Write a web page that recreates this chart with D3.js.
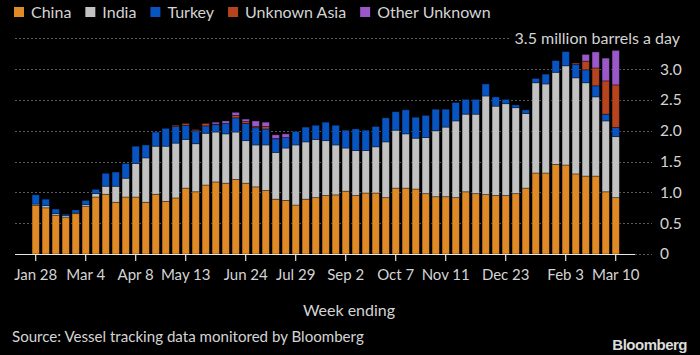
<!DOCTYPE html>
<html><head><meta charset="utf-8">
<script src="https://cdn.jsdelivr.net/npm/d3@7/dist/d3.min.js"></script>
<style>
body{margin:0;background:#000;}
svg{display:block;font-family:Lato,"Open Sans",sans-serif;}
</style>
</head><body>
<svg id="c" width="700" height="355"></svg>
<script>
const weeks = ["2022-01-28","2022-02-04","2022-02-11","2022-02-18","2022-02-25","2022-03-04","2022-03-11","2022-03-18","2022-03-25",
"2022-04-01","2022-04-08","2022-04-15","2022-04-22","2022-04-29","2022-05-06","2022-05-13","2022-05-20","2022-05-27",
"2022-06-03","2022-06-10","2022-06-17","2022-06-24","2022-07-01","2022-07-08","2022-07-15","2022-07-22","2022-07-29",
"2022-08-05","2022-08-12","2022-08-19","2022-08-26","2022-09-02","2022-09-09","2022-09-16","2022-09-23","2022-09-30",
"2022-10-07","2022-10-14","2022-10-21","2022-10-28","2022-11-04","2022-11-11","2022-11-18","2022-11-25",
"2022-12-02","2022-12-09","2022-12-16","2022-12-23","2022-12-30","2023-01-06","2023-01-13","2023-01-20","2023-01-27",
"2023-02-03","2023-02-10","2023-02-17","2023-02-24","2023-03-03","2023-03-10"];

const china = [0.79,0.75,0.63,0.59,0.655,0.77,0.925,0.97,0.84,0.925,0.925,0.84,0.97,0.855,0.91,1.07,1.01,1.12,1.17,1.15,
1.21,1.15,1.09,1.03,0.89,0.87,0.795,0.89,0.915,0.95,0.96,1.02,0.95,0.99,0.99,0.915,1.07,1.07,1.055,0.98,
0.93,0.93,0.915,1.01,0.98,0.965,0.95,0.95,0.98,1.07,1.315,1.315,1.455,1.445,1.30,1.265,1.265,1.01,0.915];
const india = [0.02,0.035,0.025,0.03,0.01,0.03,0.055,0.13,0.26,0.305,0.545,0.72,0.78,0.895,0.89,0.79,0.78,0.84,0.81,0.80,
0.77,0.69,0.68,0.74,0.76,0.85,0.975,0.93,0.945,0.89,0.81,0.70,0.73,0.69,0.75,0.905,0.94,0.88,0.825,0.91,
1.07,1.13,1.245,1.26,1.29,1.60,1.45,1.49,1.395,1.21,1.465,1.445,1.495,1.61,1.56,1.515,1.285,1.15,0.99];
const turkey = [0.15,0.105,0.075,0.025,0.05,0.07,0.07,0.21,0.23,0.24,0.28,0.21,0.23,0.29,0.27,0.23,0.21,0.12,0.12,0.17,
0.23,0.28,0.28,0.26,0.22,0.17,0.22,0.24,0.23,0.30,0.32,0.29,0.35,0.33,0.33,0.39,0.30,0.39,0.34,0.36,
0.35,0.29,0.30,0.24,0.24,0.195,0.15,0.07,0.045,0.06,0.07,0.16,0.19,0.23,0.22,0.21,0.18,0.11,0.15];
const unknownAsia = [0,0,0,0,0,0,0,0,0,0,0,0,0,0,0.02,0.03,0.02,0.04,0.01,0,
0.04,0.03,0.02,0.04,0.005,0,0,0,0,0,0,0,0,0,0,0,0,0,0,0,
0,0,0,0,0,0,0,0,0,0,0,0,0,0,0.02,0.14,0.29,0.54,0.69];
const otherUnknown = [0,0,0,0,0,0,0,0,0,0,0,0,0,0,0,0,0,0,0.03,0.04,
0.05,0.04,0.09,0.07,0.06,0.06,0,0,0,0,0,0,0,0,0,0,0,0,0,0,
0,0,0,0,0,0,0,0,0,0,0,0,0,0,0,0.11,0.26,0.37,0.56];

const seriesNames = ["China","India","Turkey","Unknown Asia","Other Unknown"];
const seriesColors = ["#df8a26","#c2c2c2","#0854c0","#b5441f","#9a58c8"];
const yTicks = [0,0.5,1.0,1.5,2.0,2.5,3.0,3.5];
const tickWeeks = ["2022-01-28","2022-03-04","2022-04-08","2022-05-13","2022-06-24","2022-07-29","2022-09-02",
"2022-10-07","2022-11-11","2022-12-23","2023-02-03","2023-03-10"];
const unitLabel = "3.5 million barrels a day";

const parse = d3.timeParse("%Y-%m-%d");
const fmt = d3.timeFormat("%b %-d");
const keys = ["china","india","turkey","unknownAsia","otherUnknown"];
const rows = weeks.map((w,i)=>({week:w, china:china[i], india:india[i], turkey:turkey[i], unknownAsia:unknownAsia[i], otherUnknown:otherUnknown[i]}));
const stacked = d3.stack().keys(keys)(rows);

const svg = d3.select("#c");
const textCol = "#d4d4d4";

const x = d3.scaleBand().domain(weeks).range([30.7, 620.7]).paddingInner(0.27).paddingOuter(0.135);
const y = d3.scaleLinear().domain([0,3.5]).range([254, 38.4]);

// gridlines
const grid = svg.append("g");
yTicks.forEach(t=>{
  grid.append("line").attr("x1",15).attr("x2", t===3.5?510:652)
    .attr("y1",Math.round(y(t))+0.5).attr("y2",Math.round(y(t))+0.5)
    .attr("stroke","#5a5a5a").attr("stroke-width",1).attr("stroke-dasharray","2,2");
});

// bars
const g = svg.append("g");
stacked.forEach((s,k)=>{
  g.append("g").attr("fill",seriesColors[k]).selectAll("rect").data(s.filter(d=>d[1]-d[0]>0)).join("rect")
    .attr("x",d=>x(d.data.week)).attr("width",x.bandwidth())
    .attr("y",d=>y(d[1])).attr("height",d=>y(d[0])-y(d[1]))
    .attr("stroke","rgba(0,0,0,0.45)").attr("stroke-width",0.8);
});

// baseline
svg.append("line").attr("x1",15).attr("x2",635).attr("y1",254.5).attr("y2",254.5).attr("stroke","#e6e6e6").attr("stroke-width",1.2);

// x axis
const xa = svg.append("g").attr("transform","translate(0,254)")
  .call(d3.axisBottom(x).tickValues(tickWeeks).tickSize(7).tickPadding(8).tickFormat(d=>fmt(parse(d))));
xa.select(".domain").remove();
xa.selectAll(".tick line").attr("stroke","#e6e6e6").attr("stroke-width",1.2);
xa.selectAll(".tick text").attr("fill",textCol).attr("font-size",15).attr("font-family","Lato,sans-serif");

// y labels
yTicks.forEach(t=>{
  if(t===3.5){
    svg.append("text").attr("x",680).attr("y",y(t)).attr("dy","0.35em").attr("text-anchor","end")
      .attr("fill",textCol).attr("font-size",16).text(unitLabel);
  } else {
    svg.append("text").attr("x",660).attr("y",y(t)).attr("dy","0.35em")
      .attr("fill",textCol).attr("font-size",15.5).text(t===0?"0":t.toFixed(1));
  }
});

// legend
let lx = 14;
seriesNames.forEach((n,i)=>{
  svg.append("rect").attr("x",lx).attr("y",7).attr("width",10).attr("height",10).attr("fill",seriesColors[i]);
  const t = svg.append("text").attr("x",lx+17).attr("y",12).attr("dy","0.35em").attr("fill",textCol).attr("font-size",16).text(n);
  lx += 17 + t.node().getComputedTextLength() + 14;
});

// axis title, source, logo
svg.append("text").attr("x",349).attr("y",316).attr("text-anchor","middle").attr("fill",textCol).attr("font-size",16).text("Week ending");
svg.append("text").attr("x",12).attr("y",342).attr("fill",textCol).attr("font-size",15.1).text("Source: Vessel tracking data monitored by Bloomberg");
svg.append("text").attr("x",687).attr("y",350).attr("text-anchor","end").attr("fill","#dcdcdc").attr("font-size",15)
  .attr("font-weight","bold").attr("font-family","'Liberation Sans',Arial,sans-serif").attr("letter-spacing","-0.5").text("Bloomberg");
</script>
</body></html>
